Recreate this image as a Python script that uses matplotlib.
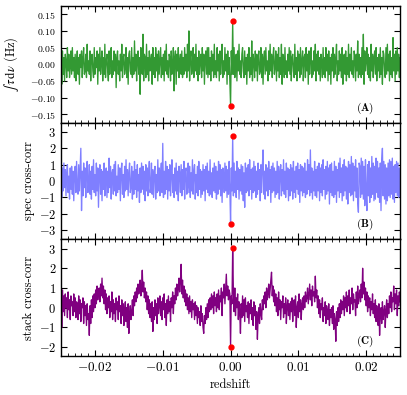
import numpy as np
import matplotlib
matplotlib.use("Agg")
import matplotlib.pyplot as plt
from matplotlib.ticker import MultipleLocator

plt.rcParams['font.family'] = 'serif'
plt.rcParams['font.serif'] = ['cmr10']
plt.rcParams['mathtext.fontset'] = 'cm'
plt.rcParams['axes.formatter.use_mathtext'] = True
plt.rcParams['font.size'] = 9

# ----------------------------- data -----------------------------
# (A) integrated optical depth, in units of 0.01 Hz
tau_int_centi = [
    7, -6, 4, -3, 2, -5, 3, 1, -4, 5, -2, 3, -4, -1, 4, -3, 5, -2, 2, -4,
    3, -5, 1, 4, -3, 2, -6, 3, -1, 4, -4, 2, 5, -3, -2, 3, -4, 6, -2, 1,
    -3, 4, -5, 2, 3, -2, -4, 5, -3, 2, -1, 4, -6, 3, -2, 5, -3, 1, 4, -5,
    2, -3, 6, -4, 1, 3, -2, -5, 4, -3, 2, 5, -4, 1, -3, 4, -2, 3, -7, 2,
    4, -3, 1, -5, 3, -2, 6, -4, 2, 3, -3, -1, 5, -4, 2, -6, 3, 4, -2, -3,
    5, -4, 2, -3, 7, -2, 3, -5, 1, 4, -3, 2, -9, 5, -1, -3, 9, -5, 3, 2,
    -4, 6, -3, 2, -5, 4, -2, 1, 3, -6, 5, -3, 2, -4, 5, -2, 3, -5, 4, -3,
    1, 5, -4, 2, -3, 3, -5, 4, -2, 6, -3, 1, -4, 3, 2, -5, 4, -3, -1, 5,
    -8, 2, 4, -6, 3, -2, 5, -4, 1, 3, -3, 4, -4, 2, -3, 5, -2, 3, -4, 6,
    -2, 10, -5, 2, 4, -3, -1, 5, -4, 3, -2, 6, -3, 2, -5, 4, -3, 1, 3, -4,
    5, -2, 3, -6, 2, 4, -3, 5, -4, 5, -3, 2, -5, 4, -2, 3, -4, 6, -3, 1,
    -4, 5, -2, 3, -5, 4, -3, 2, 6, -4, 1, -3, 5, -2, 3, -6, 4, -3, 2, -5,
    -12.5, 4, -3, 13,
    -3, 5, -4, 2, 3, -5, 4, -2, 6, -3, 1, -4, 3, 5, -2, -4, 4, -3, 2, -6,
    3, -2, 5, -4, 2, -3, 7, -5, 3, 1, -4, 4, -2, 3, -5, 2, 4, -3, -2, 5,
    -4, 3, -6, 2, 4, -3, 5, -2, 1, -5, 4, -3, 6, -2, 3, -4, 2, 5, -3, -1,
    4, -5, 3, -2, 5, -4, 2, -3, 6, -6, 3, 2, -4, 5, -3, 1, -4, 3, -2, 5,
    -3, 4, -5, 2, 3, -2, -4, 6, -3, 2, -5, 4, -2, 3, -4, 5, -3, 1, 4, -5,
    2, 3, -4, 5, -2, 3, -6, 4, -3, 2, 5, -4, 1, -3, 4, -2, 6, -5, 3, -2,
    4, -3, 2, -5, 3, 1, -4, 5, -3, 2, -4, 5, -2, 3, -5, 4, -3, 2, -6, 3,
    -2, 5, -4, 3, -3, 2, 6, -5, 1, -3, 4, -2, 3, -4, 5, -6, 2, 3, -3, 4,
    -5, 2, -3, 6, -4, 3, -2, 5, -3, 1, -4, 4, 2, -5, 3, -2, 7, -4, 3, -3,
    2, -4, 5, -3, 9, -6, 4, -2, 1, 5, -3, 3, -4, 2, -5, 6, -2, 3, -4, 2,
    4, -3, 5, -5, 2, -2, 3, -4, 5, -3, 2, -6, 4, 3, -2, -4, 5, -3, 6, -2,
    3, -5, 4, -3, 2, -4, 8, -2, 3, -5, 4, -3, 5, -2, 3, -4, 2,
]

# (B) spectral cross-correlation, in units of 0.1
spec_cc_deci = [
    13, -10, 8, -6, 11, -4, 7, -9, 5, 10, -7, 3, -11, 8, -5, 9, -8, 6, -12, 4,
    9, -7, 12, -5, -8, 10, -6, 7, 20, -18, 6, -9, 11, -4, 8, -10, 5, 12, -7, -3,
    10, -8, 6, -11, 9, -5, 13, -7, 4, -9, 11, -6, 8, -16, 5, 10, -8, 7, -12, 6,
    -5, 11, -9, 4, 8, -10, 6, -7, 14, -4, 9, -11, 5, 7, -8, 10, -6, 12, -9, 3,
    -7, 10, -5, 8, -12, 6, 11, -8, 4, -10, 9, -6, 13, -5, 7, -9, 5, 11, -7, -4,
    9, -11, 6, -8, 12, -5, 7, -10, 10, -6, 4, -13, 8, -7, 11, -5, 9, -8, 6, -12,
    10, -6, 8, -9, 5, 12, -7, -4, 11, -8, 7, -10, 6, 9, -11, 4, -7, 13, -6, 8,
    -9, 5, 11, -7, 23, -10, 6, -8, 12, -5, 9, -11, 7, -6, 10, -9, 5, 13, -7, 4,
    -10, 8, -6, 11, -8, 6, -12, 9, 5, -7, 10, -9, 7, -5, 12, -11, 6, 8, -8, -4,
    11, -7, 9, -10, 5, -6, 13, -8, 6, 10, -11, 4, -7, 9, -9, 12, -5, 7, -10, 6,
    -8, 10, -6, 7, -12, 9, -5, 11, -7, 6, -9, 13, -8, 5, -10, 8, -6, 11, -7, 9,
    -11, 6, -8, 12, -5, 10, -9, 7, -13, 8, 5, -7, 11, -6, 9, -10, 7, -8, 12, -5,
    -26, 8, -6, 27.5,
    -9, 11, -7, 6, -10, 12, -5, 8, -11, 7, -6, 10, -8, 9, -12, 5, -16, 11, -7, 8,
    -6, 10, -9, 13, -5, 7, -11, 8, -7, 12, -6, 9, -10, 6, -8, 11, -5, 7, -12, 10,
    -7, 9, 19, -8, 6, -11, 10, -6, 8, -9, 12, -5, 7, -13, 9, -7, 11, -6, 8, -10,
    6, -8, 12, -7, 9, -11, 5, 10, -9, 7, -6, 13, -8, 6, -10, 11, -5, 8, -12, 7,
    -9, 10, -6, 8, -11, 12, -7, 6, -10, 9, -5, 11, -8, 7, -13, 10, -6, 9, -9, 8,
    -7, 11, -10, 6, -8, 13, -5, 10, -9, 19, -7, 8, -11, 6, -6, 12, -9, 7, -10, 9,
    -6, 11, -12, 8, -7, 10, -9, 13, -5, 7, -11, 9, -8, 12, -6, 8, -14, 10, -7, 11,
    -9, 6, -10, 12, -8, 9, -13, 7, -6, 11, -10, 14, -7, 8, -12, 10, -9, 13, -6, 9,
    -11, 8, -14, 12, -7, 10, -9, 15, -8, 11, -12, 9, -6, 13, -10, 8, -13, -19, 11, 9,
    -10, 14, -8, 12, -11, 9, -15, 13, -7, -18, 10, -9, 12, -13, 8, -10, 15, -8, 11, -12,
    9, -11, 14, -7, 12, -10, 8, -13, 11, -18, 13, 20, -9, 12, -11, 10, -14, 8, -12, 11,
    -9, 13, -10, 12, -8, 14, -11, 9, -13, 10, -7, 12, -9, 11, -10, 8, -9,
]

# (C) stacked cross-correlation, in units of 0.1
stack_cc_deci = [
    16, -10, 9, -2, 6, -4, 7, 0, 5, -5, 8, -1, 4, -6, 6, 1, 3, -4, 7, -2,
    5, -5, 3, 2, -6, 6, -3, 4, -7, 2, 0, 5, -8, 3, -4, 1, -9, 2, -6, -3,
    -14, 1, -8, 4, -5, 6, -2, 7, 0, 9, 2, 11, 4, 8, 10, 3, 12, 6, 15, 5,
    11, 2, 9, -1, 7, -3, 5, 0, 6, -5, 3, -2, 8, -6, 4, -3, 2, -7, 5, -1,
    3, -6, 6, -2, 1, -8, 4, -4, 2, -9, -1, 3, -7, 0, -10, 2, -13, -3, 1, -6,
    -2, 4, -4, 6, 1, 8, 3, 10, 5, 12, 7, 9, 14, 6, 11, 19, 8, 13, 5, 10,
    3, 8, -1, 6, -3, 4, -5, 2, -7, 3, -12, 0, -6, 4, -4, 2, -8, 5, -3, 1,
    6, -4, 3, -6, 5, -1, 7, -5, 2, -9, 4, -3, 6, -2, 3, -7, 5, 0, 8, -3,
    6, 2, 10, 4, 12, 6, 9, 15, 8, 13, 22, 7, 14, 5, 11, 3, 9, 1, 7, -1,
    5, -3, 6, -2, 3, -5, 4, -1, 2, -6, 3, -4, 1, -8, 0, -5, -2, -9, 1, -7,
    -3, -10, -13, -4, -8, 0, -6, 2, -5, 4, -2, 5, -1, 7, 0, 6, -3, 8, 1, 5,
    -2, 7, 0, 9, -1, 6, 3, 10, -4, 8, 5, 12, 2, 9, 17, 6, 11, 4, 9, 7,
    -20, 6, 2, 30.5,
    8, -2, 10, -4, 5, 0, 7, -6, 3, -3, -13, 2, -5, 6, -4, 4, -7, 5, -2, 1,
    -5, 3, -8, 2, -3, 4, -6, 0, -9, 3, -4, 1, -11, -2, -16, -5, 0, -8, 2, -3,
    -6, 4, -1, 6, 2, 8, 0, 10, 4, 7, 12, 5, 9, 14, 18, 6, 11, 3, 9, 1,
    7, -2, 5, -4, 8, -1, 4, -6, 3, 0, 6, -5, 2, -3, 5, -8, 1, 4, -4, 2,
    -6, 3, -2, 5, -7, 1, 4, -4, 6, -10, 0, 3, -5, 7, -2, 4, -6, 2, 5, -1,
    6, 0, 8, 3, 5, 10, 2, 7, 12, 4, 9, 1, 11, 6, 8, 3, 16, 5, 9, 0,
    6, -3, 4, -5, 2, -1, 5, -7, 0, -4, 3, -8, 1, -2, -6, 2, -9, -1, -5, 0,
    -8, 1, -11, -3, -6, -17, -2, -9, 0, -7, 2, -5, 4, -3, 3, -1, 6, -4, 5, 0,
    8, -2, 6, 1, 9, -3, 5, 2, 10, -1, 7, 3, 4, -4, 8, 0, 11, 2, 6, 9,
    3, 12, 5, 20, 7, 13, 4, 10, 1, 8, -2, 6, 0, 5, -4, 3, -1, 7, -3, 2,
    -5, 4, -7, 1, -3, -9, 2, -14, -4, 0, -8, 3, -6, -2, 1, -10, -1, 4, -5, 2,
    -3, 6, 0, 8, -2, 5, 3, 11, -1, 7, 2, 9, -4, 6, 1, 8, 3,
]

z_min, z_max = -0.025, 0.025

series = [np.array(tau_int_centi) * 0.01,
          np.array(spec_cc_deci) * 0.1,
          np.array(stack_cc_deci) * 0.1]
colors = ['#339933', '#7f7fff', 'purple']
ylabels = [r'$\int\,\tau\,\mathrm{d}\nu$ (Hz)', 'spec cross-corr', 'stack cross-corr']
label_math = ['stix', 'cm', 'cm']   # stix gives a text-size integral sign
panel_tags = [r'($\mathbf{A}$)', r'($\mathbf{B}$)', r'($\mathbf{C}$)']
ylims = [(-0.175, 0.175), (-3.55, 3.57), (-2.44, 3.47)]
ystep = [0.05, 1, 1]
ytick_size = [7, 9, 9]
label_x = [-0.118, -0.077, -0.077]

# ----------------------------- figure -----------------------------
fig, axes = plt.subplots(3, 1, figsize=(4.07, 3.95), dpi=100, sharex=True)
fig.subplots_adjust(left=0.150, right=0.983, bottom=0.099, top=0.985, hspace=0)

for k, ax in enumerate(axes):
    vals = series[k]
    z = np.linspace(z_min, z_max, len(vals))
    ax.plot(z, vals, color=colors[k], lw=0.95, alpha=1.0)
    i_hi = np.argmax(vals)
    i_lo = np.argmin(vals)
    ax.plot([z[i_hi], z[i_lo]], [vals[i_hi], vals[i_lo]], 'o', color='red', ms=3.5, zorder=5)

    ax.set_xlim(z_min, z_max)
    ax.set_ylim(*ylims[k])
    ax.set_ylabel(ylabels[k], fontsize=9, math_fontfamily=label_math[k])
    ax.yaxis.set_label_coords(label_x[k], 0.5)
    ax.yaxis.set_major_locator(MultipleLocator(ystep[k]))
    ax.xaxis.set_major_locator(MultipleLocator(0.01))
    ax.xaxis.set_minor_locator(MultipleLocator(0.001))
    ax.tick_params(which='both', direction='in', top=True, right=True)
    ax.tick_params(which='major', length=4, width=0.8)
    ax.tick_params(which='minor', length=2, width=0.6)
    ax.tick_params(axis='y', labelsize=ytick_size[k])
    ax.tick_params(axis='x', labelsize=9.5)
    for sp in ax.spines.values():
        sp.set_linewidth(1.0)
    ax.text(0.896, 0.124, panel_tags[k], transform=ax.transAxes,
            ha='center', va='center', fontsize=8)

axes[-1].set_xlabel('redshift', fontsize=9)

fig.savefig('out.png', dpi=100)
